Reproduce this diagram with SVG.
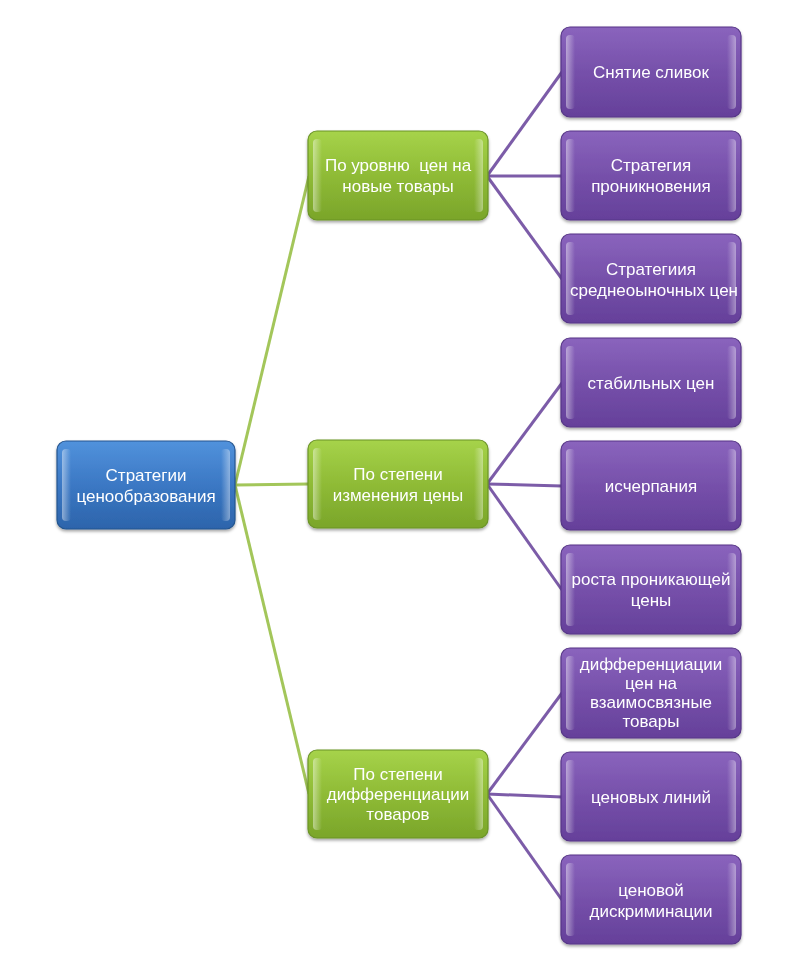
<svg xmlns="http://www.w3.org/2000/svg" width="804" height="958" viewBox="0 0 804 958">
<defs>
<linearGradient id="gBlue" x1="0" y1="0" x2="0" y2="1"><stop offset="0" stop-color="#5192dc"/><stop offset="0.5" stop-color="#3b78c4"/><stop offset="1" stop-color="#2c64ab"/></linearGradient>
<linearGradient id="gGreen" x1="0" y1="0" x2="0" y2="1"><stop offset="0" stop-color="#a6d34a"/><stop offset="0.5" stop-color="#8fbb36"/><stop offset="1" stop-color="#7aa52a"/></linearGradient>
<linearGradient id="gPurple" x1="0" y1="0" x2="0" y2="1"><stop offset="0" stop-color="#8a64bd"/><stop offset="0.5" stop-color="#7650aa"/><stop offset="1" stop-color="#65409a"/></linearGradient>
<linearGradient id="gShine" x1="0" y1="0" x2="1" y2="0"><stop offset="0" stop-color="#fff" stop-opacity="0.45"/><stop offset="1" stop-color="#fff" stop-opacity="0"/></linearGradient>
<linearGradient id="gShineR" x1="1" y1="0" x2="0" y2="0"><stop offset="0" stop-color="#fff" stop-opacity="0.4"/><stop offset="1" stop-color="#fff" stop-opacity="0"/></linearGradient>
<filter id="sh" x="-10%" y="-10%" width="120%" height="130%"><feDropShadow dx="0" dy="2" stdDeviation="1.5" flood-color="#000" flood-opacity="0.35"/></filter>
</defs>
<style>
.t{font-family:"Liberation Sans",Arial,sans-serif;font-size:17px;fill:#fff;text-anchor:middle}
.box{stroke-width:1.2}
.blue{fill:url(#gBlue);stroke:#24558f}
.green{fill:url(#gGreen);stroke:#6b9426}
.purple{fill:url(#gPurple);stroke:#563587}
.sl{fill:url(#gShine)}
.sr{fill:url(#gShineR)}
.cg{stroke:#a3c65a;stroke-width:3;fill:none}
.cp{stroke:#7c5ca8;stroke-width:3;fill:none}
</style>
<rect width="804" height="958" fill="#fff"/>
<g id="connectors">
<line class="cg" x1="235" y1="485" x2="309" y2="176"/>
<line class="cg" x1="235" y1="485" x2="309" y2="484"/>
<line class="cg" x1="235" y1="485" x2="309" y2="794"/>
<line class="cp" x1="487" y1="176" x2="562" y2="72"/>
<line class="cp" x1="487" y1="176" x2="562" y2="176"/>
<line class="cp" x1="487" y1="176" x2="562" y2="279"/>
<line class="cp" x1="487" y1="484" x2="562" y2="383"/>
<line class="cp" x1="487" y1="484" x2="562" y2="486"/>
<line class="cp" x1="487" y1="484" x2="562" y2="590"/>
<line class="cp" x1="487" y1="794" x2="562" y2="693"/>
<line class="cp" x1="487" y1="794" x2="562" y2="797"/>
<line class="cp" x1="487" y1="794" x2="562" y2="900"/>
</g>
<g id="root" filter="url(#sh)">
<rect class="box blue" x="57" y="441" width="178" height="88" rx="9"/>
<rect class="sl" x="62" y="449" width="9" height="72" rx="4"/>
<rect class="sr" x="221" y="449" width="9" height="72" rx="4"/>
<text class="t" x="146" y="481">Стратегии</text>
<text class="t" x="146" y="502">ценообразования</text>
</g>
<g id="g1" filter="url(#sh)">
<rect class="box green" x="308" y="131" width="180" height="89" rx="9"/>
<rect class="sl" x="313" y="139" width="9" height="73" rx="4"/>
<rect class="sr" x="474" y="139" width="9" height="73" rx="4"/>
<text class="t" x="398" y="171" style="white-space:pre">По уровню  цен на</text>
<text class="t" x="398" y="192">новые товары</text>
</g>
<g id="g2" filter="url(#sh)">
<rect class="box green" x="308" y="440" width="180" height="88" rx="9"/>
<rect class="sl" x="313" y="448" width="9" height="72" rx="4"/>
<rect class="sr" x="474" y="448" width="9" height="72" rx="4"/>
<text class="t" x="398" y="480">По степени</text>
<text class="t" x="398" y="501">изменения цены</text>
</g>
<g id="g3" filter="url(#sh)">
<rect class="box green" x="308" y="750" width="180" height="88" rx="9"/>
<rect class="sl" x="313" y="758" width="9" height="72" rx="4"/>
<rect class="sr" x="474" y="758" width="9" height="72" rx="4"/>
<text class="t" x="398" y="780">По степени</text>
<text class="t" x="398" y="800">дифференциации</text>
<text class="t" x="398" y="820">товаров</text>
</g>
<g id="p1" filter="url(#sh)">
<rect class="box purple" x="561" y="27" width="180" height="90" rx="9"/>
<rect class="sl" x="566" y="35" width="9" height="74" rx="4"/>
<rect class="sr" x="727" y="35" width="9" height="74" rx="4"/>
<text class="t" x="651" y="78">Снятие сливок</text>
</g>
<g id="p2" filter="url(#sh)">
<rect class="box purple" x="561" y="131" width="180" height="89" rx="9"/>
<rect class="sl" x="566" y="139" width="9" height="73" rx="4"/>
<rect class="sr" x="727" y="139" width="9" height="73" rx="4"/>
<text class="t" x="651" y="171">Стратегия</text>
<text class="t" x="651" y="192">проникновения</text>
</g>
<g id="p3" filter="url(#sh)">
<rect class="box purple" x="561" y="234" width="180" height="89" rx="9"/>
<rect class="sl" x="566" y="242" width="9" height="73" rx="4"/>
<rect class="sr" x="727" y="242" width="9" height="73" rx="4"/>
<text class="t" x="651" y="275">Стратегиия</text>
<text class="t" x="654" y="296">среднеоыночных цен</text>
</g>
<g id="p4" filter="url(#sh)">
<rect class="box purple" x="561" y="338" width="180" height="89" rx="9"/>
<rect class="sl" x="566" y="346" width="9" height="73" rx="4"/>
<rect class="sr" x="727" y="346" width="9" height="73" rx="4"/>
<text class="t" x="651" y="389">стабильных цен</text>
</g>
<g id="p5" filter="url(#sh)">
<rect class="box purple" x="561" y="441" width="180" height="89" rx="9"/>
<rect class="sl" x="566" y="449" width="9" height="73" rx="4"/>
<rect class="sr" x="727" y="449" width="9" height="73" rx="4"/>
<text class="t" x="651" y="492">исчерпания</text>
</g>
<g id="p6" filter="url(#sh)">
<rect class="box purple" x="561" y="545" width="180" height="89" rx="9"/>
<rect class="sl" x="566" y="553" width="9" height="73" rx="4"/>
<rect class="sr" x="727" y="553" width="9" height="73" rx="4"/>
<text class="t" x="651" y="585">роста проникающей</text>
<text class="t" x="651" y="606">цены</text>
</g>
<g id="p7" filter="url(#sh)">
<rect class="box purple" x="561" y="648" width="180" height="90" rx="9"/>
<rect class="sl" x="566" y="656" width="9" height="74" rx="4"/>
<rect class="sr" x="727" y="656" width="9" height="74" rx="4"/>
<text class="t" x="651" y="670">дифференциации</text>
<text class="t" x="651" y="689">цен на</text>
<text class="t" x="651" y="708">взаимосвязные</text>
<text class="t" x="651" y="727">товары</text>
</g>
<g id="p8" filter="url(#sh)">
<rect class="box purple" x="561" y="752" width="180" height="89" rx="9"/>
<rect class="sl" x="566" y="760" width="9" height="73" rx="4"/>
<rect class="sr" x="727" y="760" width="9" height="73" rx="4"/>
<text class="t" x="651" y="803">ценовых линий</text>
</g>
<g id="p9" filter="url(#sh)">
<rect class="box purple" x="561" y="855" width="180" height="89" rx="9"/>
<rect class="sl" x="566" y="863" width="9" height="73" rx="4"/>
<rect class="sr" x="727" y="863" width="9" height="73" rx="4"/>
<text class="t" x="651" y="896">ценовой</text>
<text class="t" x="651" y="917">дискриминации</text>
</g>
</svg>
